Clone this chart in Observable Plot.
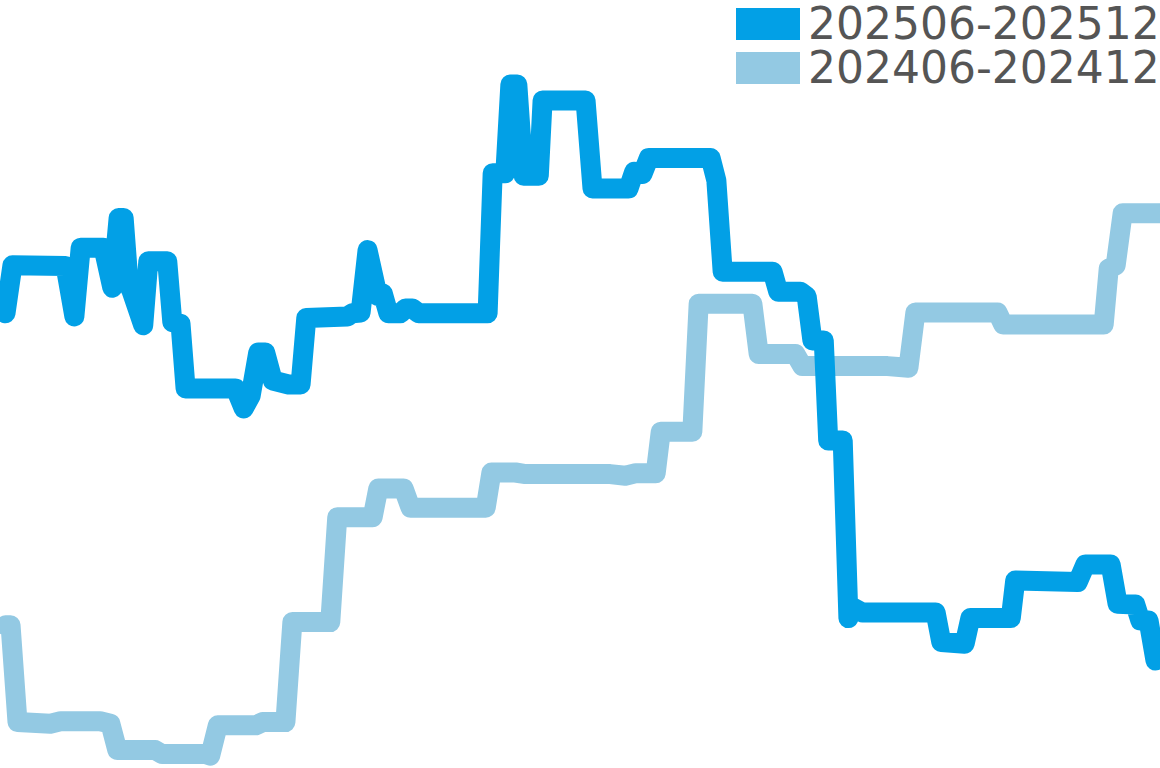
<!DOCTYPE html>
<html>
<head>
<meta charset="utf-8">
<script src="https://cdn.jsdelivr.net/npm/d3@7"></script>
<script src="https://cdn.jsdelivr.net/npm/@observablehq/plot@0.6"></script>
<style>
  html, body { margin: 0; padding: 0; background: #fff; }
  #wrap { position: relative; width: 1160px; height: 768px; overflow: hidden; }
  #legend { position: absolute; left: 736px; top: 2px; font-family: "DejaVu Sans", sans-serif; font-size: 44px; color: #555; }
  #legend .row { display: flex; align-items: center; height: 44px; }
  #legend .sw { width: 64px; height: 32px; margin-right: 8px; flex: none; }
  #legend .lab { display: inline-block; height: 42px; line-height: 42px; overflow: visible; white-space: nowrap; }
</style>
</head>
<body>
<div id="wrap">
  <div id="chart"></div>
  <div id="legend"></div>
</div>
<script>
const seriesNames = ["202506-202512", "202406-202412"];
const seriesColors = ["#02a0e6", "#93c9e3"];

// 202506-202512 : day offset and value
const days2025 = [0, 1.1, 9.5, 10.9, 11.9, 15.5, 16.9, 17.9, 18.7, 19.5, 19.9, 21.8, 22.6, 25.6, 26.4, 27.7, 28.5,
  36.4, 37.7, 38.8, 40.0, 41.1, 42.3, 44.8, 46.7, 47.6, 54.1, 54.9, 56.2, 57.3, 58.9, 59.7, 60.6,
  62.5, 63.3, 64.4, 65.4, 76.3, 77.1, 79.1, 79.9, 81.0, 82.0, 84.4, 85.0, 91.8, 92.9, 98.6, 99.5,
  100.8, 101.8, 111.6, 112.5, 113.5, 121.4, 122.3, 125.8, 126.8, 127.7, 129.5, 130.2, 132.5, 133.4,
  134.2, 135.6, 147.2, 148.1, 151.8, 152.7, 159.1, 159.8, 169.7, 170.9, 174.9, 176.0, 178.8, 179.6,
  180.9, 182];
const vals2025 = [60.9, 66.9, 66.8, 60.5, 69.1, 69.1, 64.1, 72.8, 72.8, 64.4, 63.8, 59.4, 67.4, 67.4, 59.8, 59.6, 51.5,
  51.5, 49.0, 50.6, 56.0, 56.0, 52.5, 52.0, 52.0, 60.3, 60.5, 60.9, 61.0, 68.8, 63.1, 63.4, 60.9,
  60.9, 61.5, 61.5, 60.9, 60.9, 78.4, 78.4, 89.5, 89.5, 78.1, 78.1, 87.5, 87.5, 76.5, 76.5, 78.6,
  78.3, 80.3, 80.3, 77.5, 66.1, 66.1, 63.6, 63.6, 63.0, 57.5, 57.5, 45.0, 45.0, 22.8,
  24.1, 23.5, 23.5, 19.8, 19.6, 22.8, 22.8, 27.5, 27.3, 29.5, 29.5, 24.6, 24.5, 22.5,
  22.5, 17.5];

// 202406-202412 : day offset and value
const days2024 = [0, 0.8, 1.9, 7.1, 8.7, 15.0, 16.6, 17.7, 23.7, 24.8, 31.7, 32.4, 33.6, 39.6, 40.7, 44.3, 45.4,
  51.4, 52.5, 58.1, 59.0, 63.0, 64.1, 71.2, 76.0, 76.9, 80.7, 82.3, 95.7, 98.1, 99.7, 102.9, 103.7,
  108.7, 109.7, 118.2, 119.2, 125.0, 126.1, 139.6, 142.9, 144.0, 157.0, 157.9, 173.8, 174.6, 175.7,
  176.8, 183];
const vals2024 = [21.9, 21.9, 9.8, 9.6, 9.9, 9.9, 9.6, 6.3, 6.3, 5.8, 5.8, 5.6, 9.4, 9.4, 9.8, 9.8, 22.3,
  22.3, 35.4, 35.4, 39.0, 39.0, 36.6, 36.6, 36.6, 41.0, 41.0, 40.8, 40.8, 40.6, 40.9, 40.9, 46.1,
  46.1, 62.1, 62.1, 55.8, 55.8, 54.3, 54.3, 54.1, 61.0, 61.0, 59.5, 59.5, 66.5, 66.9,
  73.4, 73.4];

const rows = [];
days2024.forEach((d, i) => rows.push({series: seriesNames[1], day: d, value: vals2024[i]}));
days2025.forEach((d, i) => rows.push({series: seriesNames[0], day: d, value: vals2025[i]}));

const chart = Plot.plot({
  width: 1160,
  height: 768,
  marginLeft: 5,
  marginRight: 5,
  marginTop: 0,
  marginBottom: 0,
  x: {domain: [0, 182], axis: null},
  y: {domain: [4, 100], axis: null},
  color: {domain: seriesNames, range: seriesColors},
  marks: [
    Plot.line(rows, {x: "day", y: "value", z: "series", stroke: "series",
      strokeWidth: 20, strokeLinejoin: "round", strokeLinecap: "round", curve: "linear"})
  ]
});
document.getElementById("chart").appendChild(chart);

const legend = document.getElementById("legend");
seriesNames.forEach((name, i) => {
  const row = document.createElement("div");
  row.className = "row";
  const sw = document.createElement("div");
  sw.className = "sw";
  sw.style.background = seriesColors[i];
  const label = document.createElement("span");
  label.className = "lab";
  label.textContent = name;
  row.appendChild(sw);
  row.appendChild(label);
  legend.appendChild(row);
});
</script>
</body>
</html>
